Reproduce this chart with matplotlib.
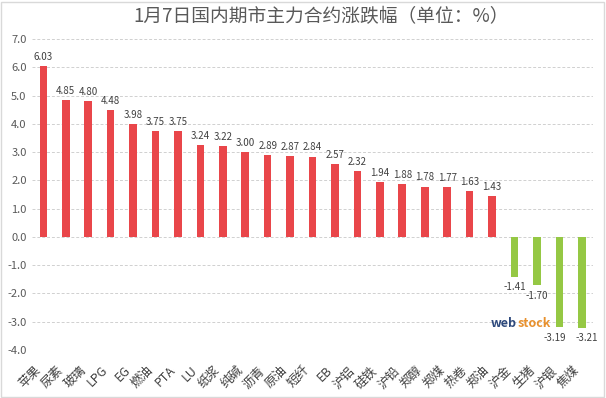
import numpy as np
import matplotlib
matplotlib.use('Agg')
import matplotlib.pyplot as plt
from matplotlib.patches import Rectangle

plt.rcParams['font.family'] = ['Noto Sans CJK SC', 'DejaVu Sans']

# 品种与涨跌幅
categories = ['苹果', '尿素', '玻璃', 'LPG', 'EG', '燃油', 'PTA', 'LU', '纸浆', '纯碱',
              '沥青', '原油', '短纤', 'EB', '沪铝', '硅铁', '沪铅', '郑醇', '郑煤', '热卷',
              '郑油', '沪金', '生猪', '沪银', '焦煤']
changes = [6.03, 4.85, 4.80, 4.48, 3.98, 3.75, 3.75, 3.24, 3.22, 3.00,
           2.89, 2.87, 2.84, 2.57, 2.32, 1.94, 1.88, 1.78, 1.77, 1.63,
           1.43, -1.41, -1.70, -3.19, -3.21]
y_ticks = [7.0, 6.0, 5.0, 4.0, 3.0, 2.0, 1.0, 0.0, -1.0, -2.0, -3.0, -4.0]

red = '#E9464A'
green = '#95C844'
text_col = '#595959'

fig = plt.figure(figsize=(6.06, 3.98), dpi=100)
ax = fig.add_axes([0.053, 0.1206, 0.9255, 0.7814])

x = np.arange(len(categories))
colors = [red if v >= 0 else green for v in changes]
ax.bar(x, changes, width=0.34, color=colors, zorder=3)

# 数值标签
for i, v in enumerate(changes):
    if v >= 0:
        ax.annotate(f'{v:.2f}', (i, v), xytext=(0, 3), textcoords='offset points',
                    ha='center', va='bottom', fontsize=7, color='#404040')
    else:
        # 最后两个标签稍微错开，避免重叠
        dx = -3.5 if i == len(changes) - 2 else (3.5 if i == len(changes) - 1 else 0)
        ax.annotate(f'{v:.2f}', (i, v), xytext=(dx, -4), textcoords='offset points',
                    ha='center', va='top', fontsize=7, color='#404040')

ax.set_xlim(-0.5, len(categories) - 0.5)
ax.set_ylim(-4.0, 7.0)
ax.set_yticks(y_ticks)
ax.set_yticklabels([f'{t:.1f}' for t in y_ticks], fontsize=8, color=text_col)
ax.grid(axis='y', color='#D0D0D0', linestyle=(0, (3, 2)), linewidth=0.7, zorder=0)
for s in ax.spines.values():
    s.set_visible(False)
ax.tick_params(length=0, pad=4)
ax.set_xticks([])

# 类别标签（倾斜45度，放在-4.0下方）
for i, name in enumerate(categories):
    ax.annotate(name, (i, -4.0), xytext=(0, -10), textcoords='offset points',
                rotation=45, ha='right', va='top', fontsize=9, color='#404040',
                annotation_clip=False)

fig.suptitle('1月7日国内期市主力合约涨跌幅（单位：%）', x=0.53, y=0.985,
             fontsize=13.5, color=text_col)

# 水印
fig.text(0.81, 0.178, 'web', fontsize=9, fontweight='bold', color='#2E4A7D')
fig.text(0.854, 0.178, 'stock', fontsize=9, fontweight='bold', color='#E8912E')

fig.patches.append(Rectangle((0.002, 0.003), 0.995, 0.993, transform=fig.transFigure,
                             fill=False, edgecolor='#D9D9D9', linewidth=1))

fig.savefig('out.png', dpi=100)
